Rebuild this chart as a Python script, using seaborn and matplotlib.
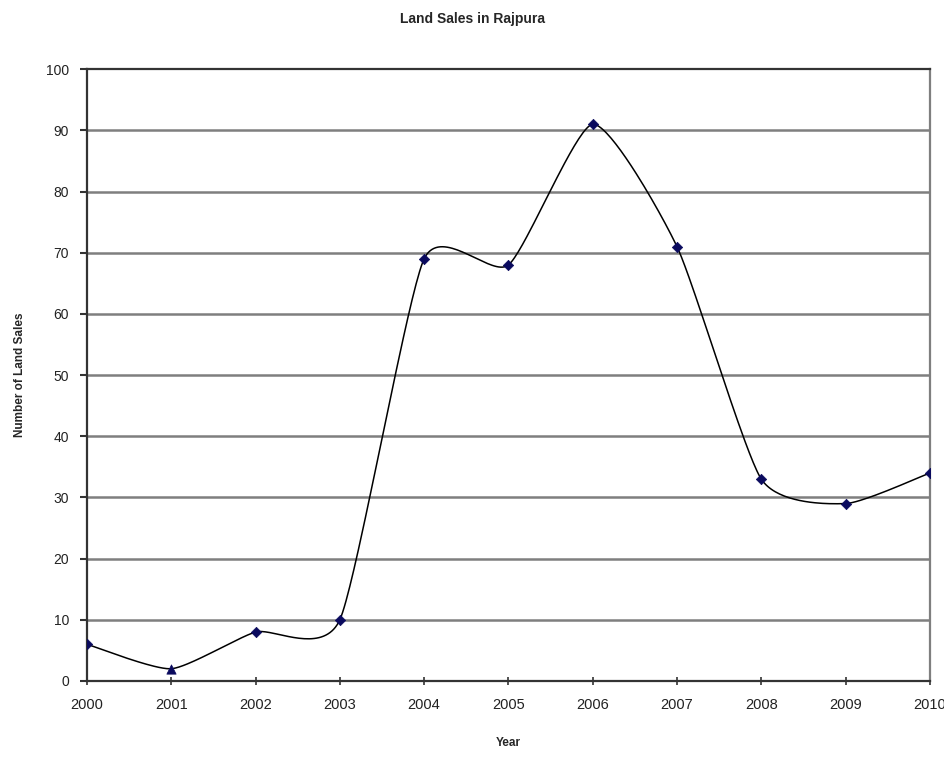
import numpy as np
import pandas as pd
import matplotlib
matplotlib.use("Agg")
import matplotlib.pyplot as plt
import seaborn as sns

years = [2000, 2001, 2002, 2003, 2004, 2005, 2006, 2007, 2008, 2009, 2010]
sales = [6, 2, 8, 10, 69, 68, 91, 71, 33, 29, 34]
marker_shapes = ["D", "^", "D", "D", "D", "D", "D", "D", "D", "D", "D"]
y_ticks = [0, 10, 20, 30, 40, 50, 60, 70, 80, 90, 100]


def smooth_curve(xs, ys, tension=0.1, steps=40):
    """Bezier smoothing through every data point (spreadsheet-style)."""
    xs = np.asarray(xs, float)
    ys = np.asarray(ys, float)
    n = len(xs)
    out_x, out_y = [], []
    t = np.linspace(0, 1, steps)
    for i in range(n - 1):
        p0 = np.array([xs[max(i - 1, 0)], ys[max(i - 1, 0)]])
        p1 = np.array([xs[i], ys[i]])
        p2 = np.array([xs[i + 1], ys[i + 1]])
        p3 = np.array([xs[min(i + 2, n - 1)], ys[min(i + 2, n - 1)]])
        c1 = p1 + (p2 - p0) * tension
        c2 = p2 - (p3 - p1) * tension
        b = ((1 - t) ** 3)[:, None] * p1 + (3 * (1 - t) ** 2 * t)[:, None] * c1 \
            + (3 * (1 - t) * t ** 2)[:, None] * c2 + (t ** 3)[:, None] * p2
        if i > 0:
            b = b[1:]
        out_x.extend(b[:, 0])
        out_y.extend(b[:, 1])
    return np.array(out_x), np.array(out_y)


sns.set_theme(style="white")
plt.rcParams["font.family"] = ["Liberation Sans", "DejaVu Sans"]

fig = plt.figure(figsize=(9.45, 7.59), dpi=100)
ax = fig.add_axes([0.092, 0.1028, 0.892, 0.806])

cx, cy = smooth_curve(years, sales)
curve = pd.DataFrame({"Year": cx, "Sales": cy})
sns.lineplot(data=curve, x="Year", y="Sales", ax=ax, color="black",
             linewidth=1.1, sort=False, zorder=3)

points = pd.DataFrame({"Year": years, "Sales": sales, "shape": marker_shapes})
for shape, grp in points.groupby("shape"):
    sns.scatterplot(data=grp, x="Year", y="Sales", ax=ax, marker=shape,
                    color="#0a0a5e", s=28 if shape == "D" else 45,
                    edgecolor="#0a0a5e", linewidth=0.5, zorder=4)

ax.set_xlim(years[0], years[-1])
ax.set_ylim(0, 100)
ax.set_xticks(years)
ax.set_yticks(y_ticks)
ax.set_xticklabels([str(y) for y in years], fontsize=10.5)
ax.set_yticklabels([str(v) for v in y_ticks], fontsize=10)

for v in y_ticks[1:-1]:
    ax.axhline(v, color="#7f7f7f", linewidth=1.8, zorder=1)

for side in ["left", "bottom", "top", "right"]:
    ax.spines[side].set_visible(True)
    ax.spines[side].set_linewidth(1.6)
ax.spines["left"].set_color("#333333")
ax.spines["bottom"].set_color("#333333")
ax.spines["top"].set_color("#333333")
ax.spines["right"].set_color("#7f7f7f")

ax.tick_params(axis="y", direction="out", length=5, width=1.5, color="#333333",
               left=True, pad=8, labelcolor="#222222")
ax.tick_params(axis="x", direction="inout", length=6, width=1.2, color="#333333",
               bottom=True, pad=9, labelcolor="#222222")

ax.set_xlabel("Year", fontsize=8.5, fontweight="bold", labelpad=18)
ax.set_ylabel("Number of Land Sales", fontsize=8.5, fontweight="bold", labelpad=14)
fig.suptitle("Land Sales in Rajpura", fontsize=10, fontweight="bold", y=0.984)

fig.savefig("out.png", dpi=100)
